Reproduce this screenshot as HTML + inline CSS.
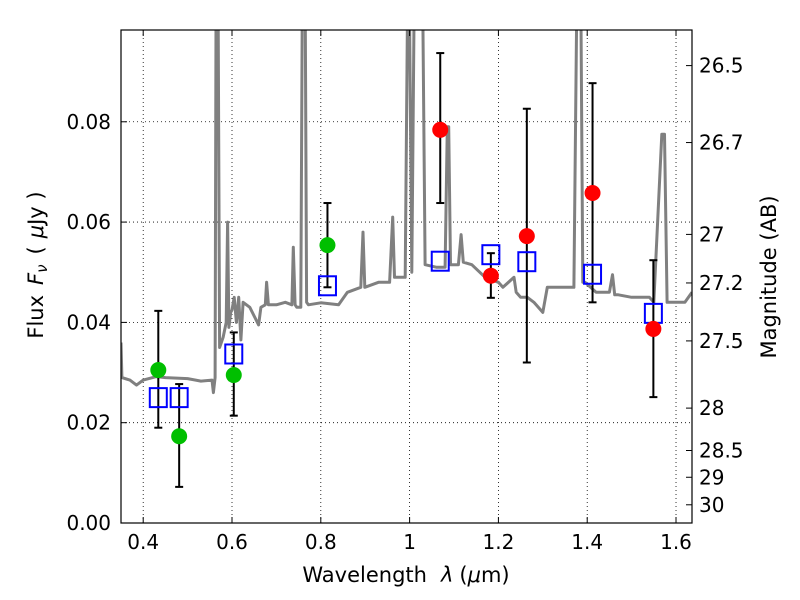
<!DOCTYPE html>
<html><head><meta charset="utf-8"><style>
body{margin:0;background:#fff;}
svg{display:block;font-family:"DejaVu Sans","Liberation Sans",sans-serif;}
</style></head><body>
<svg id="chart" width="800" height="600" viewBox="0 0 800 600" xmlns="http://www.w3.org/2000/svg">
<rect x="0" y="0" width="800" height="600" fill="#fff"/>
<g id="grid"></g>
<g id="spec"></g>
<g id="marks"></g>
<g id="axes"></g>
<text x="406" y="582" font-size="21" text-anchor="middle">Wavelength<tspan dx="14" font-style="italic">λ</tspan><tspan dx="6">(</tspan><tspan font-style="italic">μ</tspan>m)</text>
<text transform="translate(43,265) rotate(-90)" font-size="21" text-anchor="middle">Flux<tspan dx="10" font-style="italic">F</tspan><tspan font-style="italic" font-size="15" dy="4">ν</tspan><tspan dy="-4" dx="10">(</tspan><tspan dx="8" font-style="italic">μ</tspan>Jy )</text>
<text transform="translate(776,277) rotate(-90)" font-size="21" text-anchor="middle">Magnitude (AB)</text>
</svg>
<script>
const specWave=[0.35,0.352,0.37,0.385,0.40,0.43,0.45,0.50,0.53,0.555,0.558,0.562,0.564,0.566,0.569,0.572,0.58,0.587,0.59,0.593,0.597,0.60,0.605,0.61,0.615,0.62,0.625,0.64,0.66,0.665,0.675,0.678,0.682,0.686,0.70,0.72,0.735,0.738,0.742,0.746,0.755,0.758,0.761,0.765,0.768,0.772,0.80,0.84,0.86,0.89,0.895,0.899,0.93,0.955,0.962,0.966,0.98,0.99,0.995,1.0,1.005,1.01,1.02,1.025,1.03,1.035,1.06,1.08,1.085,1.088,1.092,1.11,1.116,1.121,1.14,1.17,1.2,1.21,1.235,1.24,1.25,1.265,1.28,1.3,1.31,1.325,1.33,1.34,1.37,1.376,1.379,1.386,1.39,1.395,1.42,1.45,1.457,1.462,1.47,1.5,1.54,1.55,1.568,1.574,1.58,1.585,1.62,1.636];
const specFlux=[0.036,0.029,0.0285,0.0275,0.0285,0.0292,0.029,0.0288,0.0283,0.0285,0.026,0.029,0.1,0.1,0.1,0.035,0.037,0.04,0.06,0.039,0.042,0.0425,0.045,0.040,0.045,0.0365,0.044,0.043,0.0395,0.043,0.0435,0.048,0.0435,0.0435,0.0435,0.044,0.0435,0.055,0.0435,0.043,0.043,0.1,0.1,0.1,0.044,0.0435,0.0439,0.0435,0.046,0.047,0.058,0.047,0.048,0.048,0.061,0.049,0.049,0.049,0.1,0.1,0.05,0.1,0.1,0.1,0.1,0.0515,0.051,0.051,0.079,0.079,0.0515,0.0515,0.0575,0.052,0.0515,0.049,0.048,0.047,0.049,0.046,0.045,0.045,0.044,0.042,0.047,0.047,0.047,0.047,0.047,0.1,0.1,0.1,0.048,0.048,0.046,0.046,0.0495,0.0455,0.0455,0.045,0.045,0.044,0.0775,0.0775,0.044,0.044,0.044,0.046];
const greenWave=[0.434,0.481,0.604,0.815];
const greenFlux=[0.0305,0.0173,0.0295,0.0554];
const greenLo=[0.019,0.0072,0.0214,0.047];
const greenHi=[0.0423,0.0277,0.038,0.0638];
const redWave=[1.069,1.183,1.264,1.412,1.549];
const redFlux=[0.0784,0.0493,0.0572,0.0658,0.0387];
const redLo=[0.0638,0.0449,0.032,0.044,0.0251];
const redHi=[0.0937,0.0538,0.0826,0.0877,0.0524];
const modelWave=[0.434,0.481,0.604,0.815,1.069,1.183,1.264,1.412,1.549];
const modelFlux=[0.025,0.025,0.0337,0.0473,0.0522,0.0535,0.0521,0.0496,0.0418];
const xTicks=[0.4,0.6,0.8,1.0,1.2,1.4,1.6];
const xTickLabels=["0.4","0.6","0.8","1","1.2","1.4","1.6"];
const yTicks=[0,0.02,0.04,0.06,0.08];
const yTickLabels=["0.00","0.02","0.04","0.06","0.08"];
const magTicks=[26.5,26.7,27,27.2,27.5,28,28.5,29,30];
const magTickLabels=["26.5","26.7","27","27.2","27.5","28","28.5","29","30"];

const L=121,R=692,T=30,B=523;
const X0=0.35,X1=1.636,Y0=0,Y1=0.0983;
const xs=v=>L+(v-X0)/(X1-X0)*(R-L);
const ys=v=>B-(v-Y0)/(Y1-Y0)*(B-T);
const NS="http://www.w3.org/2000/svg";
function mk(tag,parent,attrs){const e=document.createElementNS(NS,tag);for(const k in attrs)e.setAttribute(k,attrs[k]);parent.appendChild(e);return e;}
const grid=document.getElementById('grid'),axes=document.getElementById('axes'),spec=document.getElementById('spec'),marks=document.getElementById('marks');

xTicks.forEach((t,i)=>{const x=xs(t);
 const g=mk('line',grid,{x1:x,x2:x,y1:T,y2:B,stroke:'#000','stroke-width':0.8,'stroke-dasharray':'1,3'});
 
 mk('line',axes,{x1:x,x2:x,y1:B,y2:B-6,stroke:'#000'});
 mk('line',axes,{x1:x,x2:x,y1:T,y2:T+6,stroke:'#000'});
 const tx=mk('text',axes,{x:x,y:B+26,'font-size':20,'text-anchor':'middle'});tx.textContent=xTickLabels[i];
 
});
yTicks.forEach((t,i)=>{const y=ys(t);
 if(t>0){const g=mk('line',grid,{x1:L,x2:R,y1:y,y2:y,stroke:'#000','stroke-width':0.8,'stroke-dasharray':'1,3'});
 }
 mk('line',axes,{x1:L,x2:L+6,y1:y,y2:y,stroke:'#000'});
 const tx=mk('text',axes,{x:L-10,y:y+7,'font-size':20,'text-anchor':'end'});tx.textContent=yTickLabels[i];
 
});
magTicks.forEach((m,i)=>{const y=ys(Math.pow(10,(23.9-m)/2.5));
 mk('line',axes,{x1:R,x2:R-6,y1:y,y2:y,stroke:'#000'});
 const tx=mk('text',axes,{x:R+7,y:y+7,'font-size':20});tx.textContent=magTickLabels[i];
 
});
const fr=mk('rect',axes,{x:L,y:T,width:R-L,height:B-T,fill:'none',stroke:'#000','stroke-width':1.2});


const clip=mk('clipPath',document.getElementById('chart'),{id:'cp'});
mk('rect',clip,{x:L,y:T,width:R-L,height:B-T});
spec.setAttribute('clip-path','url(#cp)');
const pts=specWave.map((w,i)=>xs(w).toFixed(1)+','+ys(specFlux[i]).toFixed(1)).join(' ');
const pl=mk('polyline',spec,{points:pts,fill:'none',stroke:'#808080','stroke-width':3,'stroke-linejoin':'round'});


function errbar(w,lo,hi){const x=xs(w);
 const g=mk('g',marks,{});
 
 mk('line',g,{x1:x,x2:x,y1:ys(lo),y2:ys(hi),stroke:'#000','stroke-width':2});
 mk('line',g,{x1:x-4,x2:x+4,y1:ys(lo),y2:ys(lo),stroke:'#000','stroke-width':2});
 mk('line',g,{x1:x-4,x2:x+4,y1:ys(hi),y2:ys(hi),stroke:'#000','stroke-width':2});
}
greenWave.forEach((w,i)=>errbar(w,greenLo[i],greenHi[i]));
redWave.forEach((w,i)=>errbar(w,redLo[i],redHi[i]));
modelWave.forEach((w,i)=>{const r=mk('rect',marks,{x:xs(w)-8.5,y:ys(modelFlux[i])-9.5,width:17,height:19,fill:'none',stroke:'#0000ff','stroke-width':2});
 });
greenWave.forEach((w,i)=>{const c=mk('circle',marks,{cx:xs(w),cy:ys(greenFlux[i]),r:8,fill:'#00bf00'});
 });
redWave.forEach((w,i)=>{const c=mk('circle',marks,{cx:xs(w),cy:ys(redFlux[i]),r:8,fill:'#ff0000'});
 });
</script>
</body></html>
